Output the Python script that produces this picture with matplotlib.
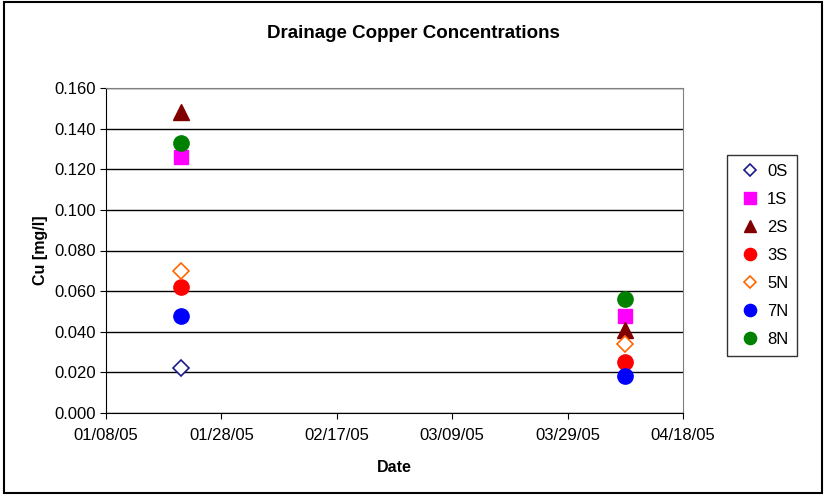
import matplotlib
matplotlib.use("Agg")
import matplotlib.pyplot as plt
import matplotlib.dates as mdates
import numpy as np
import datetime as dt

plt.rcParams['font.family'] = ['Liberation Sans', 'DejaVu Sans']

dates = [dt.date(2005, 1, 21), dt.date(2005, 4, 8)]
series = ["0S", "1S", "2S", "3S", "5N", "7N", "8N"]
cu_0S = [0.022, np.nan]
cu_1S = [0.126, 0.048]
cu_2S = [0.148, 0.041]
cu_3S = [0.062, 0.025]
cu_5N = [0.070, 0.034]
cu_7N = [0.048, 0.018]
cu_8N = [0.133, 0.056]
values = [cu_0S, cu_1S, cu_2S, cu_3S, cu_5N, cu_7N, cu_8N]

styles = [
    dict(marker='D', mfc='white', mec='#1a1a8c', ms=8, mew=1.2),
    dict(marker='s', mfc='#ff00ff', mec='#ff00ff', ms=10),
    dict(marker='^', mfc='#800000', mec='#800000', ms=11),
    dict(marker='o', mfc='#ff0000', mec='#ff0000', ms=11),
    dict(marker='D', mfc='white', mec='#ff6600', ms=8, mew=1.2),
    dict(marker='o', mfc='#0000ff', mec='#0000ff', ms=11),
    dict(marker='o', mfc='#008000', mec='#008000', ms=11),
]

fig = plt.figure(figsize=(8.26, 4.95), dpi=100)
ax = fig.add_axes([106/826, 1-413/495, (683-106)/826, (413-88)/495])

for name, vals, st in zip(series, values, styles):
    ax.plot(dates, vals, linestyle='none', label=name, **st)

ax.set_xlim(dt.date(2005, 1, 8), dt.date(2005, 4, 18))
ax.set_ylim(0, 0.16)
ax.set_yticks(np.arange(0, 0.161, 0.02))
ax.yaxis.set_major_formatter(matplotlib.ticker.FormatStrFormatter('%.3f'))
ticks = [dt.date(2005, 1, 8) + dt.timedelta(days=20*i) for i in range(6)]
ax.set_xticks(ticks)
ax.xaxis.set_major_formatter(mdates.DateFormatter('%m/%d/%y'))
ax.grid(axis='y', color='black', linewidth=1)
ax.set_axisbelow(True)
for s in ['top', 'right']:
    ax.spines[s].set_color('#808080')
for s in ['left', 'bottom']:
    ax.spines[s].set_color('black')
ax.tick_params(axis='both', labelsize=12, direction='out', length=4)
ax.tick_params(axis='x', pad=7)

fig.text(0.5, 1-33/495, 'Drainage Copper Concentrations', fontsize=13.5, fontweight='bold',
         ha='center', va='center')
ax.set_xlabel('Date', fontsize=11.5, fontweight='bold', labelpad=12)
ax.set_ylabel('Cu [mg/l]', fontsize=11.5, fontweight='bold', labelpad=4)

leg = ax.legend(loc='upper left', bbox_to_anchor=(727/826, 1-155/495), bbox_transform=fig.transFigure,
                frameon=True, fancybox=False, edgecolor='black', fontsize=12, borderaxespad=0,
                handletextpad=0.15, labelspacing=0.78, borderpad=0.55, handlelength=1.7, markerscale=0.8)
leg.get_frame().set_linewidth(1)

fig.patches.append(matplotlib.patches.Rectangle((0.005, 0.005), 0.99, 0.99, transform=fig.transFigure,
                                                 fill=False, edgecolor='black', linewidth=1.5))
fig.savefig('out.png', dpi=100)
